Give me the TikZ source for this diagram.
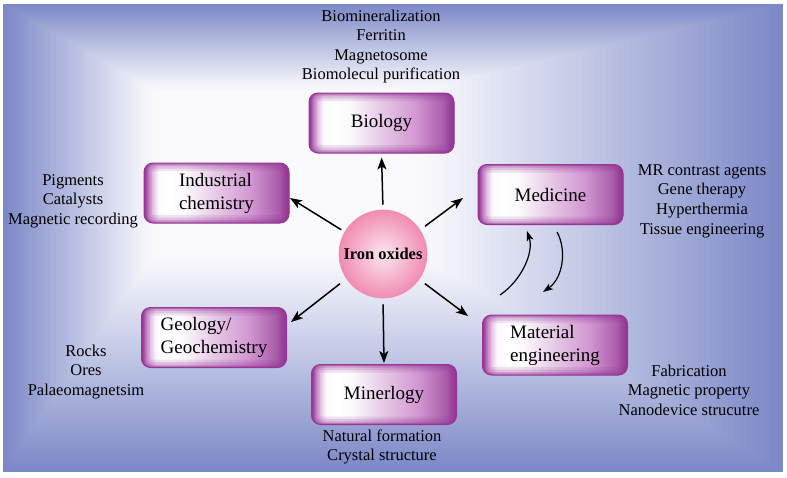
\documentclass[tikz,border=0pt]{standalone}
\usepackage{fontspec}
\setmainfont{Liberation Serif}
\usetikzlibrary{arrows.meta,calc}
\definecolor{bgedge}{RGB}{124,136,199}
\definecolor{bgmid}{RGB}{250,250,253}
\definecolor{bp}{RGB}{150,55,150}
\definecolor{bp2}{RGB}{210,150,210}
\definecolor{bp3}{RGB}{230,200,230}
\definecolor{pinkedge}{RGB}{240,140,178}
\definecolor{pinkmid}{RGB}{253,230,238}
\pgfdeclarehorizontalshading{boxshade}{100bp}{color(0bp)=(bp); color(25bp)=(bp); color(26.5bp)=(bp2); color(30bp)=(white!92!bp3); color(34bp)=(white); color(39bp)=(white!90!bp3); color(50bp)=(bp3); color(62bp)=(bp2); color(71bp)=(bp!80!white); color(75bp)=(bp); color(100bp)=(bp)}
\tikzset{
  pbox/.style={rectangle, rounded corners=9pt, minimum width=145pt, minimum height=60pt,
    draw=bp, line width=1pt, shade, shading=boxshade, align=left,
    font=\fontsize{19}{23}\selectfont, inner sep=0pt,
    path picture={\foreach \w/\o in {16/0.14,11/0.18,6/0.26,3/0.4}{
      \draw[bp, opacity=\o, line width=\w pt, rounded corners=9pt]
        (path picture bounding box.south west) rectangle (path picture bounding box.north east);}}},
  lbl/.style={align=center, font=\fontsize{16.5}{19.6}\selectfont, inner sep=0pt},
  arr/.style={-{Stealth[length=12pt,width=9pt,inset=3pt]}, line width=1.5pt},
  carr/.style={-{Stealth[length=10pt,width=7pt,inset=2.5pt]}, line width=1.2pt}
}
\begin{document}
\begin{tikzpicture}[x=1pt,y=-1pt]
\useasboundingbox (0,0) rectangle (787,477);
% background
\fill[white] (0,0) rectangle (787,477);
\foreach \i in {0,...,59}{
  \pgfmathsetmacro\t{\i/59}
  \pgfmathsetmacro\p{100*(1-\t)^1.05}
  \fill[bgedge!\p!bgmid] ({3+150*\t},{4+86*\t}) rectangle ({783-360*\t},{472-215*\t});
}
% boxes
\node[pbox] (bio) at (381.5,123) {Biology};
\node[pbox] (ind) at (216.5,193) {Industrial\\chemistry};
\node[pbox] (med) at (550.5,194.5) {Medicine};
\node[pbox] (mat) at (555,345) {Material\\engineering};
\node[pbox] (geo) at (214,337.5) {Geology/\\Geochemistry};
\node[pbox] (min) at (384,394.5) {Minerlogy};
\node[circle, minimum size=88pt, inner sep=0pt, inner color=pinkmid, outer color=pinkedge,
  draw=pinkedge, line width=0.6pt, font=\fontsize{16.5}{19}\selectfont\bfseries] (io) at (383,254) {Iron oxides};
% labels
\node[lbl] (tbio) at (381,46.5) {Biomineralization\\Ferritin\\Magnetosome\\Biomolecul purification};
\node[lbl] (tind) at (73,201) {Pigments\\Catalysts\\Magnetic recording};
\node[lbl] (tmed) at (702,201) {MR contrast agents\\Gene therapy\\Hyperthermia\\Tissue engineering};
\node[lbl] (tgeo) at (86,372) {Rocks\\Ores\\Palaeomagnetsim};
\node[lbl] (tmat) at (689,390) {Fabrication\\Magnetic property\\Nanodevice strucutre};
\node[lbl] (tmin) at (382,447) {Natural formation\\Crystal structure};
% arrow ends
\coordinate (ti) at (290,198);
\coordinate (tm) at (463,198);
\coordinate (tg) at (291,322);
\coordinate (tt) at (468,316);
\coordinate (ca1) at (500,295);
\coordinate (ca2) at (527,231);
\coordinate (cb1) at (557,232);
\coordinate (cb2) at (543,292);
% arrows
\draw[arr, shorten <=5pt, shorten >=4pt] (io.north) -- (bio.south);
\draw[arr, shorten <=6pt, shorten >=1pt] (io.south) -- (min.north);
\draw[arr, shorten <=4pt] (io.150) -- (ti);
\draw[arr, shorten <=6pt] (io.33) -- (tm);
\draw[arr, shorten <=8pt] (io.214) -- (tg);
\draw[arr, shorten <=7pt] (io.-35) -- (tt);
\draw[carr] (ca1) .. controls (522,280) and (534,252) .. (ca2);
\draw[carr] (cb1) .. controls (567,250) and (563,278) .. (cb2);
\end{tikzpicture}
\end{document}
